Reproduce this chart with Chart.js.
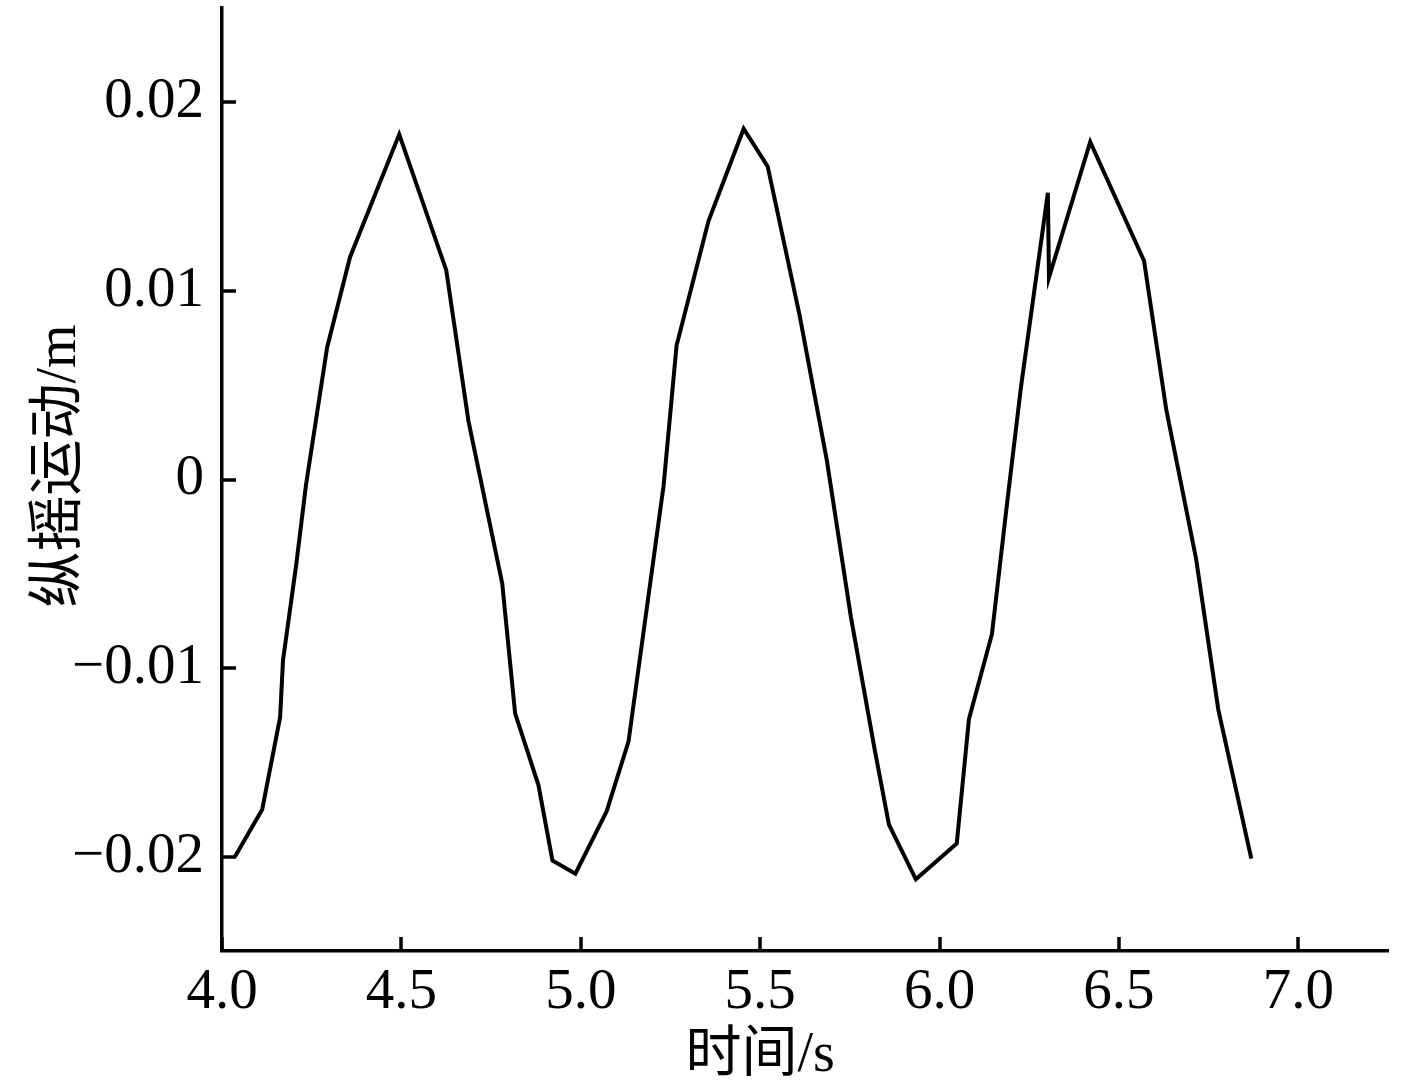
<!DOCTYPE html>
<html>
<head>
<meta charset="utf-8">
<script src="https://cdn.jsdelivr.net/npm/chart.js@4/dist/chart.umd.min.js"></script>
<style>
  html, body { margin: 0; padding: 0; background: #fff; }
  #wrap { width: 1417px; height: 1086px; }
</style>
</head>
<body>
<div id="wrap"><canvas id="chart" width="1417" height="1086"></canvas></div>
<script>
// time (s) and pitch motion (m)
const timeVals = [4.036, 4.112, 4.162, 4.170, 4.207, 4.234, 4.293, 4.357, 4.494, 4.625,
  4.687, 4.781, 4.817, 4.882, 4.921, 4.985, 5.072, 5.133, 5.231, 5.267,
  5.356, 5.454, 5.521, 5.610, 5.686, 5.753, 5.820, 5.859, 5.934, 6.048,
  6.082, 6.146, 6.188, 6.227, 6.302, 6.305, 6.420, 6.570, 6.632, 6.715,
  6.777, 6.869];
const pitchVals = [-0.0200, -0.0175, -0.0126, -0.0096, -0.0045, -0.0003, 0.0070, 0.0118, 0.0183, 0.0111,
  0.0031, -0.0055, -0.0124, -0.0162, -0.0202, -0.0209, -0.0176, -0.0139, -0.0003, 0.0071,
  0.0137, 0.0186, 0.0166, 0.0087, 0.0010, -0.0073, -0.0144, -0.0183, -0.0212, -0.0193,
  -0.0127, -0.0082, -0.0013, 0.0049, 0.0152, 0.0107, 0.0179, 0.0116, 0.0037, -0.0042,
  -0.0122, -0.0201];
const xTicks = [4.0, 4.5, 5.0, 5.5, 6.0, 6.5, 7.0];
const yTicks = [-0.02, -0.01, 0, 0.01, 0.02];

const serif = '"Liberation Serif", "Times New Roman", "Noto Sans CJK SC", serif';

// inward tick marks and the two axis titles
const axisDeco = {
  id: 'axisDeco',
  afterDraw(chart) {
    const { ctx, chartArea, scales } = chart;
    ctx.save();
    ctx.strokeStyle = '#000';
    ctx.lineWidth = 3.5;
    ctx.beginPath();
    yTicks.forEach(v => {
      const py = Math.round(scales.y.getPixelForValue(v));
      ctx.moveTo(chartArea.left, py);
      ctx.lineTo(chartArea.left + 14, py);
    });
    xTicks.forEach(v => {
      const px = Math.round(scales.x.getPixelForValue(v));
      ctx.moveTo(px, chartArea.bottom);
      ctx.lineTo(px, chartArea.bottom - 14);
    });
    ctx.stroke();

    ctx.fillStyle = '#000';
    ctx.font = '56px ' + serif;
    ctx.textAlign = 'center';
    ctx.textBaseline = 'middle';
    const cx = (scales.x.getPixelForValue(4.0) + scales.x.getPixelForValue(7.0)) / 2;
    ctx.fillText('时间/s', cx, 1056);

    ctx.translate(60, 466);
    ctx.rotate(-Math.PI / 2);
    ctx.fillText('纵摇运动/m', 0, 0);
    ctx.restore();
  }
};

new Chart(document.getElementById('chart'), {
  type: 'line',
  data: {
    datasets: [{
      data: timeVals.map((t, i) => ({ x: t, y: pitchVals[i] })),
      borderColor: '#000',
      borderWidth: 4,
      pointRadius: 0,
      tension: 0,
      fill: false
    }]
  },
  options: {
    responsive: false,
    animation: false,
    layout: { padding: { top: 8, right: 29, left: 0, bottom: 0 } },
    plugins: { legend: { display: false }, tooltip: { enabled: false } },
    scales: {
      x: {
        type: 'linear',
        min: 4.0,
        max: 7.25,
        afterBuildTicks: s => { s.ticks = xTicks.map(v => ({ value: v })); },
        afterFit: s => { s.height = 135; s.paddingLeft = 0; s.paddingRight = 0; },
        grid: { display: false, drawTicks: false },
        border: { display: true, color: '#000', width: 3.5 },
        ticks: {
          color: '#000',
          padding: 8,
          maxRotation: 0,
          font: { family: serif, size: 57 },
          callback: v => v.toFixed(1)
        }
      },
      y: {
        type: 'linear',
        min: -0.025,
        max: 0.025,
        afterBuildTicks: s => { s.ticks = yTicks.map(v => ({ value: v })); },
        afterFit: s => { s.width = 222; s.paddingTop = 0; s.paddingBottom = 0; },
        grid: { display: false, drawTicks: false },
        border: { display: true, color: '#000', width: 3.5 },
        ticks: {
          color: '#000',
          padding: 18,
          font: { family: serif, size: 57 },
          callback: v => {
            if (Math.abs(v) < 1e-9) return '0';
            const s = Math.abs(v).toFixed(2);
            return v < 0 ? '\u2212' + s : s;
          }
        }
      }
    }
  },
  plugins: [axisDeco]
});
</script>
</body>
</html>
